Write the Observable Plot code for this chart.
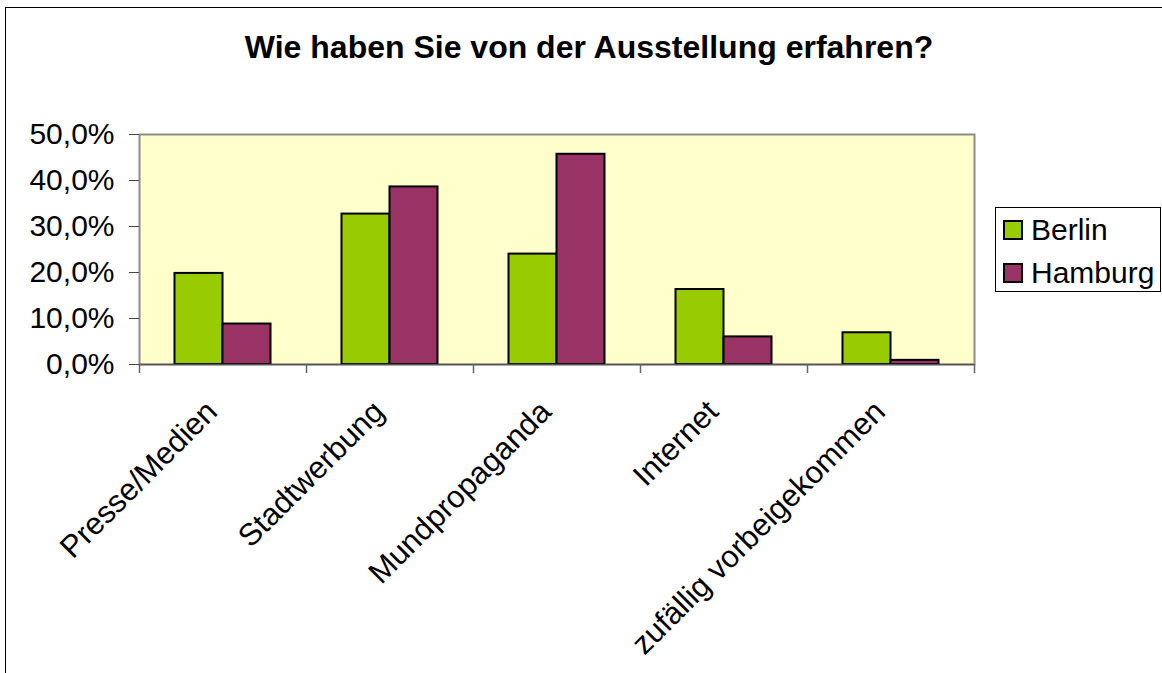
<!DOCTYPE html>
<html><head><meta charset="utf-8">
<script src="https://cdn.jsdelivr.net/npm/d3@7"></script>
<script src="https://cdn.jsdelivr.net/npm/@observablehq/plot@0.6"></script>
<style>
body{margin:0;background:#fff;overflow:hidden;font-family:"Liberation Sans",Arial,sans-serif;}
#wrap{position:relative;width:1162px;height:673px;overflow:hidden;background:#fff;}
#border{position:absolute;left:5px;top:7px;width:1200px;height:720px;border:1px solid #000;box-sizing:border-box;}
#title{position:absolute;left:0;width:1178px;top:31px;line-height:32px;text-align:center;font-weight:bold;font-size:32px;color:#000;white-space:nowrap;}
#chart{position:absolute;left:0;top:0;}
#legend{position:absolute;left:995px;top:207px;width:166px;height:85px;border:1px solid #000;box-sizing:border-box;background:#fff;}
.item{position:absolute;left:7px;height:36px;line-height:36px;display:flex;align-items:center;font-size:30px;color:#000;white-space:nowrap;}
.sw{width:20px;height:20px;border:2px solid #000;box-sizing:border-box;margin-right:8px;}
</style></head>
<body>
<div id="wrap">
  <div id="border"></div>
  <div id="title">Wie haben Sie von der Ausstellung erfahren?</div>
  <div id="chart"></div>
  <div id="legend"></div>
</div>
<script>
const titleText = "Wie haben Sie von der Ausstellung erfahren?";
const categories = ["Presse/Medien", "Stadtwerbung", "Mundpropaganda", "Internet", "zufällig vorbeigekommen"];
const series = ["Berlin", "Hamburg"];
const berlin = [0.198, 0.327, 0.240, 0.163, 0.069];
const hamburg = [0.088, 0.386, 0.457, 0.060, 0.009];
const colors = ["#99CC00", "#993366"];
const yTicks = [0, 0.1, 0.2, 0.3, 0.4, 0.5];

const rows = [];
categories.forEach((c, i) => {
  rows.push({category: c, series: "Berlin", value: berlin[i]});
  rows.push({category: c, series: "Hamburg", value: hamburg[i]});
});

const W = 1162, H = 673, mL = 139, mR = 188, mT = 134, mB = 309;
const step = (W - mL - mR) / categories.length;
const barW = 48, groupOff = 35.5;
const fmt = d3.formatLocale({decimal: ",", thousands: ".", grouping: [3], currency: ["", " €"]}).format(".1%");

const chart = Plot.plot({
  width: W, height: H,
  marginLeft: mL, marginRight: mR, marginTop: mT, marginBottom: mB,
  style: {fontFamily: "'Liberation Sans', Arial, sans-serif", fontSize: "30px", background: "transparent", overflow: "visible", color: "#000"},
  x: {type: "band", domain: categories, padding: 0, axis: null},
  y: {domain: [0, 0.5], axis: null},
  color: {domain: series, range: colors},
  marks: [
    Plot.frame({fill: "#FFFFCC", stroke: "#8c8c8c", strokeWidth: 2}),
    Plot.barY(rows.filter(d => d.series === "Berlin"), {x: "category", y: "value", fill: "series", stroke: "#000", strokeWidth: 2, insetLeft: groupOff, insetRight: step - groupOff - barW}),
    Plot.barY(rows.filter(d => d.series === "Hamburg"), {x: "category", y: "value", fill: "series", stroke: "#000", strokeWidth: 2, insetLeft: groupOff + barW, insetRight: groupOff}),
    Plot.ruleY([0], {stroke: "#555", strokeWidth: 1.5}),
    Plot.axisY({ticks: yTicks, tickFormat: fmt, tickSize: 10, tickPadding: 15, stroke: "#444", fill: "#000", fontSize: 30, label: null}),
    Plot.ruleX(categories, {x: d => d, dx: -step / 2, y1: 0, y2: 0, insetBottom: -9, stroke: "#666", strokeWidth: 1.5}),
    Plot.ruleX(categories.slice(-1), {x: d => d, dx: step / 2, y1: 0, y2: 0, insetBottom: -9, stroke: "#666", strokeWidth: 1.5}),
    Plot.text(categories, {x: d => d, frameAnchor: "bottom", rotate: -45, textAnchor: "end", lineAnchor: "bottom", dx: -4, dy: 49, fontSize: 31, fill: "#000"})
  ]
});
document.getElementById("chart").appendChild(chart);

const legend = document.getElementById("legend");
series.forEach((s, i) => {
  const item = document.createElement("div");
  item.className = "item";
  item.style.top = (4 + i * 43) + "px";
  const sw = document.createElement("div");
  sw.className = "sw";
  sw.style.background = colors[i];
  const t = document.createElement("span");
  t.textContent = s;
  item.appendChild(sw); item.appendChild(t);
  legend.appendChild(item);
});
</script>
</body></html>
